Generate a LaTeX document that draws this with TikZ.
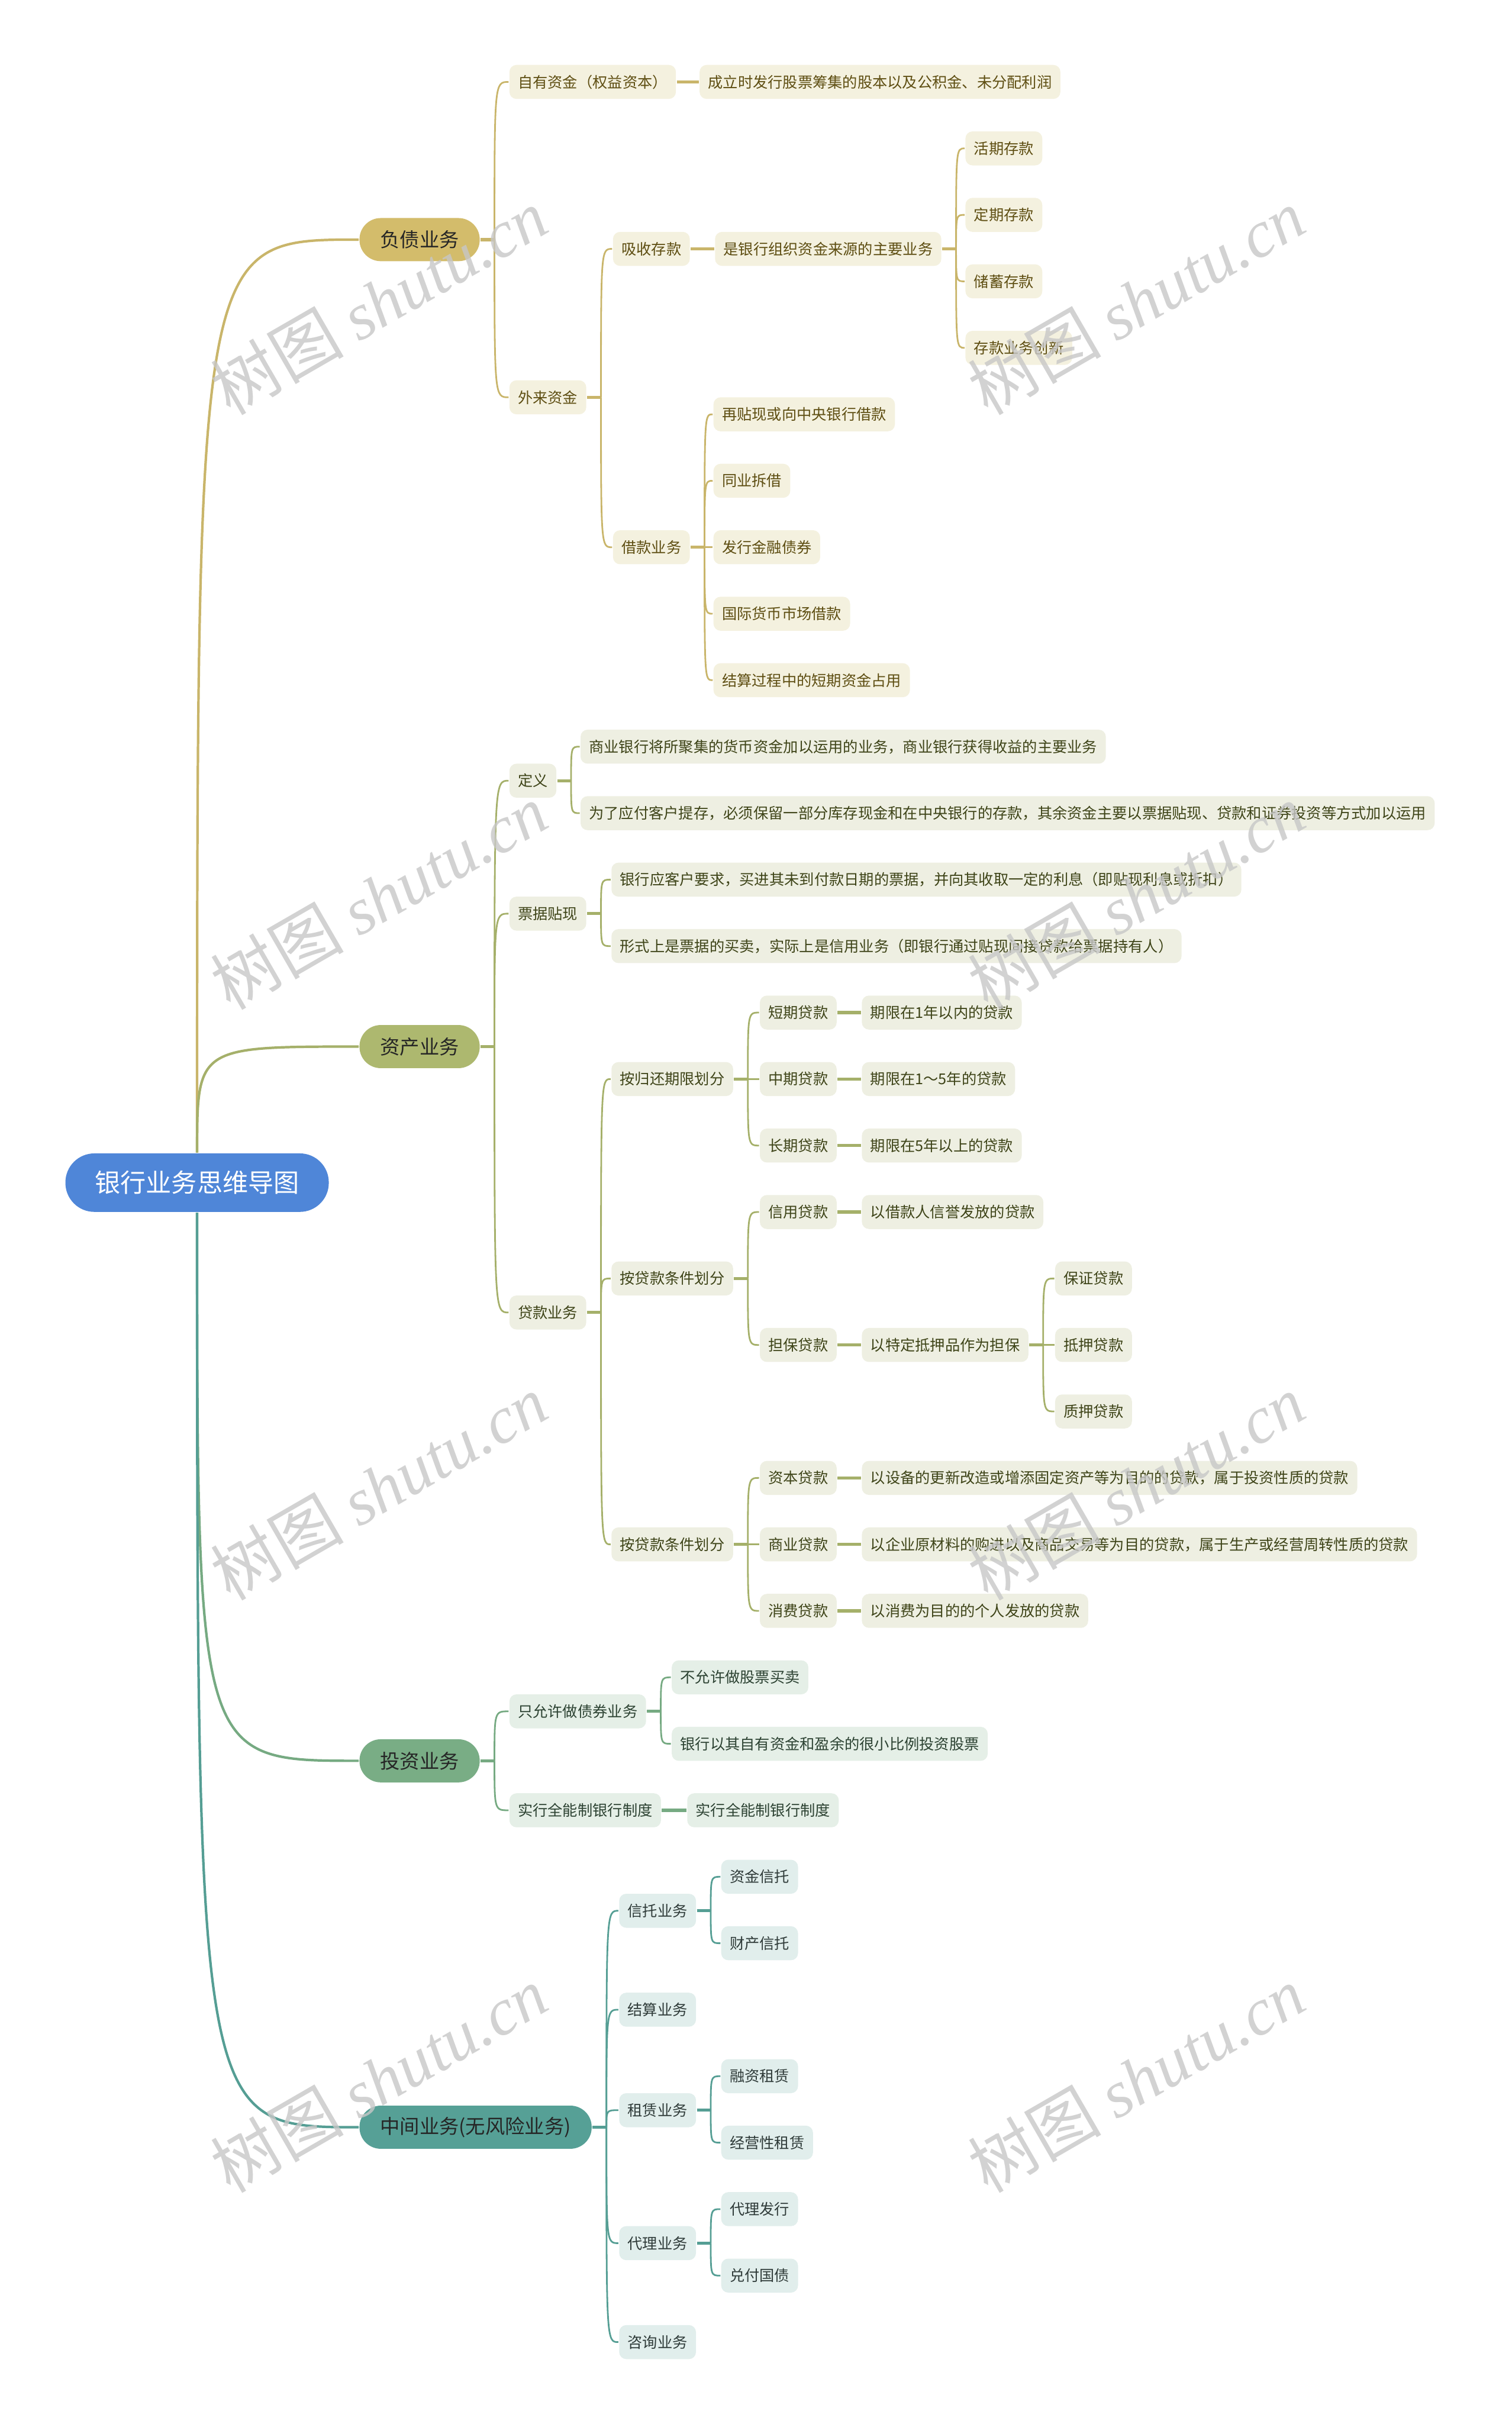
\documentclass[tikz,border=0pt]{standalone}
\usepackage{fontspec}
\setmainfont{Noto Sans CJK SC}
\newfontfamily\wmfont{Liberation Serif}
\usetikzlibrary{calc}

\definecolor{rootblue}{HTML}{4F86D8}
\definecolor{fzmain}{HTML}{D3BC6B}
\definecolor{fzline}{HTML}{C9B56A}
\definecolor{fzfill}{HTML}{F4F1DF}
\definecolor{fztext}{HTML}{5E4E12}
\definecolor{zcmain}{HTML}{ADB86F}
\definecolor{zcline}{HTML}{A5B06A}
\definecolor{zcfill}{HTML}{EEEFE2}
\definecolor{zctext}{HTML}{3E4418}
\definecolor{tzmain}{HTML}{79AD85}
\definecolor{tzline}{HTML}{76AA82}
\definecolor{tzfill}{HTML}{E5EFE7}
\definecolor{tztext}{HTML}{2C4232}
\definecolor{zjmain}{HTML}{56A096}
\definecolor{zjline}{HTML}{559E94}
\definecolor{zjfill}{HTML}{E1EEEC}
\definecolor{zjtext}{HTML}{2F3B39}

\tikzset{every picture/.style={line width=0.8pt}}
\tikzset{
  rootnode/.style={fill=rootblue, text=white, rounded corners=0.49cm,
    minimum height=0.99cm, inner xsep=0.5cm, inner ysep=0pt,
    font=\fontsize{12.3}{14}\selectfont},
  mainnode/.style={rounded corners=0.36cm, minimum height=0.73cm,
    inner xsep=0.35cm, inner ysep=0pt, text=black!85, anchor=west,
    font=\fontsize{9.5}{11}\selectfont},
  box/.style={rounded corners=1.2mm, minimum height=0.576cm, inner xsep=0.144cm,
    inner ysep=0pt, anchor=west, font=\fontsize{7.2}{8}\selectfont},
  fzbox/.style={box, fill=fzfill, text=fztext},
  zcbox/.style={box, fill=zcfill, text=zctext},
  tzbox/.style={box, fill=tzfill, text=tztext},
  zjbox/.style={box, fill=zjfill, text=zjtext},
  fzln/.style={draw=fzline},
  zcln/.style={draw=zcline},
  tzln/.style={draw=tzline},
  zjln/.style={draw=zjline},
  stub/.style={line width=1.5pt},
  wm/.style={text=black!22, opacity=0.8, rotate=30, font=\fontsize{32}{36}\selectfont}
}

% 父节点 -> 子节点 (短横线 + 弯线)
\newcommand{\tocurve}[3]{%
  \draw[#1, stub] (#2.east) -- ++(9,0) coordinate (bus);
  \draw[#1] (bus) .. controls (bus |- #3.west) .. (#3.west);}
\newcommand{\tostraight}[3]{\draw[#1, stub] (#2.east) -- (#3.west);}

\begin{document}
\begin{tikzpicture}[x=0.026176cm, y=-0.026176cm]
    \useasboundingbox (0,0) rectangle (978,1568);

    % 中心主题
    \node[rootnode] (root) at (127.5,765) {银行业务思维导图};

    % 一级分支
    \node[mainnode, fill=fzmain] (fz) at (232,155) {负债业务};
    \node[mainnode, fill=zcmain] (zc) at (232,677) {资产业务};
    \node[mainnode, fill=tzmain] (tz) at (232,1139) {投资业务};
    \node[mainnode, fill=zjmain] (zj) at (232,1376) {中间业务(无风险业务)};

    \draw[fzln, line width=1.2pt] (root.north) .. controls (root.north |- fz.west) .. (fz.west);
    \draw[zcln, line width=1.2pt] (root.north) .. controls (root.north |- zc.west) .. (zc.west);
    \draw[tzln, line width=1.2pt] (root.south) .. controls (root.south |- tz.west) .. (tz.west);
    \draw[zjln, line width=1.2pt] (root.south) .. controls (root.south |- zj.west) .. (zj.west);

    % 负债业务
    \node[fzbox] (zyzj) at (329,53) {自有资金（权益资本）};
    \node[fzbox] (wlzj) at (329,257) {外来资金};
    \node[fzbox] (zyzja) at (452,53) {成立时发行股票筹集的股本以及公积金、未分配利润};
    \node[fzbox] (xsck) at (396,161) {吸收存款};
    \node[fzbox] (jkyw) at (396,354) {借款业务};
    \node[fzbox] (xscka) at (462,161) {是银行组织资金来源的主要业务};
    \node[fzbox] (hqck) at (624,96) {活期存款};
    \node[fzbox] (dqck) at (624,139) {定期存款};
    \node[fzbox] (cxck) at (624,182) {储蓄存款};
    \node[fzbox] (ckcx) at (624,225) {存款业务创新};
    \node[fzbox] (jka) at (461,268) {再贴现或向中央银行借款};
    \node[fzbox] (jkb) at (461,311) {同业拆借};
    \node[fzbox] (jkc) at (461,354) {发行金融债券};
    \node[fzbox] (jkd) at (461,397) {国际货币市场借款};
    \node[fzbox] (jke) at (461,440) {结算过程中的短期资金占用};

    \foreach \c in {zyzj,wlzj} {\tocurve{fzln}{fz}{\c}}
    \tostraight{fzln}{zyzj}{zyzja}
    \foreach \c in {xsck,jkyw} {\tocurve{fzln}{wlzj}{\c}}
    \tostraight{fzln}{xsck}{xscka}
    \foreach \c in {hqck,dqck,cxck,ckcx} {\tocurve{fzln}{xscka}{\c}}
    \foreach \c in {jka,jkb,jkc,jkd,jke} {\tocurve{fzln}{jkyw}{\c}}

    % 资产业务
    \node[zcbox] (dy) at (329,505) {定义};
    \node[zcbox] (pjtx) at (329,591) {票据贴现};
    \node[zcbox] (dkyw) at (329,849) {贷款业务};
    \node[zcbox] (dya) at (375,483) {商业银行将所聚集的货币资金加以运用的业务，商业银行获得收益的主要业务};
    \node[zcbox] (dyb) at (375,526) {为了应付客户提存，必须保留一部分库存现金和在中央银行的存款，其余资金主要以票据贴现、贷款和证券投资等方式加以运用};
    \node[zcbox] (pja) at (395,569) {银行应客户要求，买进其未到付款日期的票据，并向其收取一定的利息（即贴现利息或折扣）};
    \node[zcbox] (pjb) at (395,612) {形式上是票据的买卖，实际上是信用业务（即银行通过贴现间接贷款给票据持有人）};
    \node[zcbox] (qx) at (395,698) {按归还期限划分};
    \node[zcbox] (tj) at (395,827) {按贷款条件划分};
    \node[zcbox] (yt) at (395,999) {按贷款条件划分};
    \node[zcbox] (dqdk) at (491,655) {短期贷款};
    \node[zcbox] (zqdk) at (491,698) {中期贷款};
    \node[zcbox] (cqdk) at (491,741) {长期贷款};
    \node[zcbox] (dqdka) at (557,655) {期限在1年以内的贷款};
    \node[zcbox] (zqdka) at (557,698) {期限在1～5年的贷款};
    \node[zcbox] (cqdka) at (557,741) {期限在5年以上的贷款};
    \node[zcbox] (xydk) at (491,784) {信用贷款};
    \node[zcbox] (dbdk) at (491,870) {担保贷款};
    \node[zcbox] (xydka) at (557,784) {以借款人信誉发放的贷款};
    \node[zcbox] (dbdka) at (557,870) {以特定抵押品作为担保};
    \node[zcbox] (bzdk) at (682,827) {保证贷款};
    \node[zcbox] (dydk) at (682,870) {抵押贷款};
    \node[zcbox] (zydk) at (682,913) {质押贷款};
    \node[zcbox] (zbdk) at (491,956) {资本贷款};
    \node[zcbox] (sydk) at (491,999) {商业贷款};
    \node[zcbox] (xfdk) at (491,1042) {消费贷款};
    \node[zcbox] (zbdka) at (557,956) {以设备的更新改造或增添固定资产等为目的的贷款，属于投资性质的贷款};
    \node[zcbox] (sydka) at (557,999) {以企业原材料的购进以及商品交易等为目的贷款，属于生产或经营周转性质的贷款};
    \node[zcbox] (xfdka) at (557,1042) {以消费为目的的个人发放的贷款};

    \foreach \c in {dy,pjtx,dkyw} {\tocurve{zcln}{zc}{\c}}
    \foreach \c in {dya,dyb} {\tocurve{zcln}{dy}{\c}}
    \foreach \c in {pja,pjb} {\tocurve{zcln}{pjtx}{\c}}
    \foreach \c in {qx,tj,yt} {\tocurve{zcln}{dkyw}{\c}}
    \foreach \c in {dqdk,zqdk,cqdk} {\tocurve{zcln}{qx}{\c}}
    \foreach \c in {xydk,dbdk} {\tocurve{zcln}{tj}{\c}}
    \foreach \c in {zbdk,sydk,xfdk} {\tocurve{zcln}{yt}{\c}}
    \foreach \a/\b in {dqdk/dqdka,zqdk/zqdka,cqdk/cqdka,xydk/xydka,dbdk/dbdka,zbdk/zbdka,sydk/sydka,xfdk/xfdka}
        {\tostraight{zcln}{\a}{\b}}
    \foreach \c in {bzdk,dydk,zydk} {\tocurve{zcln}{dbdka}{\c}}

    % 投资业务
    \node[tzbox] (zyx) at (329,1107) {只允许做债券业务};
    \node[tzbox] (qnz) at (329,1171) {实行全能制银行制度};
    \node[tzbox] (byx) at (434,1085) {不允许做股票买卖};
    \node[tzbox] (yhtz) at (434,1128) {银行以其自有资金和盈余的很小比例投资股票};
    \node[tzbox] (qnza) at (444,1171) {实行全能制银行制度};

    \foreach \c in {zyx,qnz} {\tocurve{tzln}{tz}{\c}}
    \foreach \c in {byx,yhtz} {\tocurve{tzln}{zyx}{\c}}
    \tostraight{tzln}{qnz}{qnza}

    % 中间业务
    \node[zjbox] (xtyw) at (400,1236) {信托业务};
    \node[zjbox] (jsyw) at (400,1300) {结算业务};
    \node[zjbox] (zlyw) at (400,1365) {租赁业务};
    \node[zjbox] (dlyw) at (400,1451) {代理业务};
    \node[zjbox] (zxyw) at (400,1515) {咨询业务};
    \node[zjbox] (zjxt) at (466,1214) {资金信托};
    \node[zjbox] (ccxt) at (466,1257) {财产信托};
    \node[zjbox] (rzzl) at (466,1343) {融资租赁};
    \node[zjbox] (jyzl) at (466,1386) {经营性租赁};
    \node[zjbox] (dlfx) at (466,1429) {代理发行};
    \node[zjbox] (dfgz) at (466,1472) {兑付国债};

    \foreach \c in {xtyw,jsyw,zlyw,dlyw,zxyw} {\tocurve{zjln}{zj}{\c}}
    \foreach \c in {zjxt,ccxt} {\tocurve{zjln}{xtyw}{\c}}
    \foreach \c in {rzzl,jyzl} {\tocurve{zjln}{zlyw}{\c}}
    \foreach \c in {dlfx,dfgz} {\tocurve{zjln}{dlyw}{\c}}

    % 水印
    \foreach \y in {195,580,962,1345} {
        \node[wm] (wml\y) at (245,\y) {树图 {\wmfont\itshape shutu.cn}};
        \node[wm] (wmr\y) at (735,\y) {树图 {\wmfont\itshape shutu.cn}};
    }
\end{tikzpicture}
\end{document}
